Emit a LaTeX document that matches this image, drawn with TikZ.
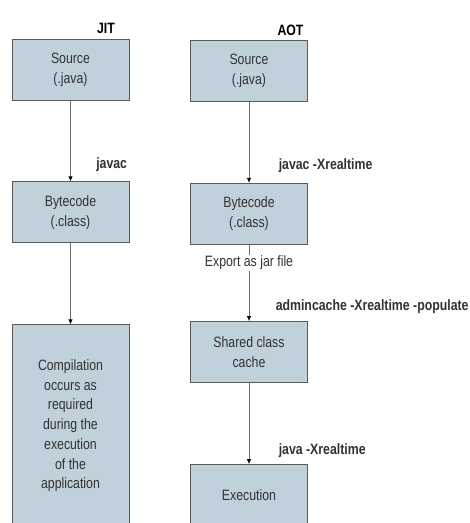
\documentclass[tikz,border=0pt]{standalone}
\usepackage{fontspec}
\setmainfont{Liberation Sans}[FakeStretch=0.82]
\usepackage{tikz}
\usetikzlibrary{positioning, arrows.meta}
\definecolor{boxfill}{RGB}{192,209,220}
\definecolor{boxline}{RGB}{90,90,90}
\definecolor{txt}{RGB}{50,50,50}
\tikzset{
  stage/.style = {rectangle, minimum width=117pt, minimum height=61pt, align=center, draw=boxline, line width=0.9pt, fill=boxfill, text=txt, font=\fontsize{15}{19.7}\selectfont},
  title/.style = {font=\fontsize{15}{18}\selectfont\bfseries, text=black, anchor=south west},
  cmd/.style = {font=\fontsize{15}{18}\selectfont\bfseries, text=txt, anchor=west, xshift=22pt},
  note/.style = {font=\fontsize{15}{18}\selectfont, text=txt, inner sep=1pt},
  arrow/.style = {draw={rgb,255:red,110;green,110;blue,110}, line width=0.9pt, -{Latex[length=5pt,width=4.5pt,black]}}
}

\begin{document}
\begin{tikzpicture}[x=1pt, y=1pt, node distance=81pt]
  \clip (0,0) rectangle (470,-523);

  % JIT
  \node (src1) [stage] at (70.5,-69.5) {Source\\(.java)};
  \node (bc1) [stage, below=of src1] {Bytecode\\(.class)};
  \node (comp1) [stage, below=of bc1, minimum height=202pt] {Compilation\\occurs as\\required\\during the\\execution\\of the\\application};
  \node (jit) [title, above right=1pt and 23pt of src1.north] {JIT};

  \draw [arrow] (src1) -- node [cmd, pos=0.79] {javac} (bc1);
  \draw [arrow] (bc1) -- (comp1);

  % AOT
  \node (src2) [stage] at (249,-71) {Source\\(.java)};
  \node (bc2) [stage, below=of src2] {Bytecode\\(.class)};
  \node (exp) [note, below=10pt of bc2] {Export as jar file};
  \node (shc) [stage, below=50pt of exp] {Shared class\\cache};
  \node (exec) [stage, below=of shc] {Execution};
  \node (aot) [title, above right=1pt and 25pt of src2.north] {AOT};

  \draw [arrow] (src2) -- node [cmd, pos=0.79, xshift=4pt] {javac -Xrealtime} (bc2);
  \draw [arrow, -] (bc2) -- (exp);
  \draw [arrow] (exp) -- node [cmd, pos=0.7, xshift=1pt] {admincache -Xrealtime -populate} (shc);
  \draw [arrow] (shc) -- node [cmd, pos=0.83, xshift=4pt] {java -Xrealtime} (exec);

\end{tikzpicture}
\end{document}
